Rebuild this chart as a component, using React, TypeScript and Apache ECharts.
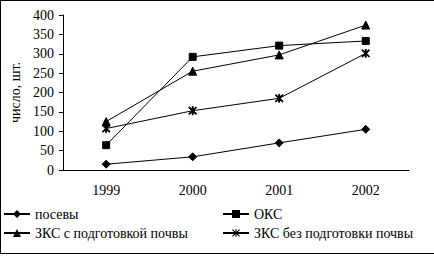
import React, { useEffect, useRef } from "react";
import * as echarts from "echarts";

const years = ["1999", "2000", "2001", "2002"];
const posevy = [15, 34, 70, 105];
const oks = [64, 292, 321, 333];
const zksWith = [125, 255, 297, 374];
const zksWithout = [107, 153, 185, 301];
const seriesNames = ["посевы", "ОКС", "ЗКС с подготовкой почвы", "ЗКС без подготовки почвы"];

const starPath =
  "path://M4.4 0H5.6V10H4.4Z M0.3 1.2L1.2 0.3L9.7 8.8L8.8 9.7Z M8.8 0.3L9.7 1.2L1.2 9.7L0.3 8.8Z";

const FONT = "Liberation Serif";

export default function App() {
  const ref = useRef<HTMLDivElement>(null);
  useEffect(() => {
    const chart = echarts.init(ref.current!, null, { renderer: "svg" });
    const mk = (name: string, data: number[], symbol: string, size: number) => ({
      name,
      type: "line",
      data,
      symbol,
      symbolSize: size,
      lineStyle: { color: "#000", width: 1 },
      itemStyle: { color: "#000", borderColor: "#000" },
    });
    const ts = { color: "#000", fontFamily: FONT, fontSize: 14 };
    const lg = (name: string, left: number, top: number) => ({
      data: [name],
      left,
      top,
      padding: 0,
      itemWidth: 26,
      itemHeight: 10,
      textStyle: { ...ts, lineHeight: 14 },
    });
    chart.setOption({
      animation: false,
      backgroundColor: "#fff",
      textStyle: ts,
      grid: { left: 61, right: 25, top: 15, bottom: 87 },
      xAxis: {
        type: "category",
        data: years,
        boundaryGap: true,
        axisLine: { lineStyle: { color: "#000", width: 1 } },
        axisTick: { length: 4, lineStyle: { color: "#000" } },
        axisLabel: { ...ts, margin: 13 },
      },
      yAxis: {
        type: "value",
        min: 0,
        max: 400,
        interval: 50,
        name: "число, шт.",
        nameLocation: "middle",
        nameGap: 36,
        nameTextStyle: ts,
        splitLine: { show: false },
        axisLine: { show: true, lineStyle: { color: "#000", width: 1 } },
        axisTick: { show: true, length: 4, lineStyle: { color: "#000" } },
        axisLabel: { ...ts, margin: 9 },
      },
      legend: [
        lg(seriesNames[0], 3, 207),
        lg(seriesNames[1], 222, 207),
        lg(seriesNames[2], 3, 226),
        lg(seriesNames[3], 222, 226),
      ],
      graphic: [
        { type: "line", shape: { x1: 0, y1: 0.5, x2: 434, y2: 0.5 }, style: { stroke: "#000", lineWidth: 1 } },
        { type: "line", shape: { x1: 0.5, y1: 0, x2: 0.5, y2: 254 }, style: { stroke: "#000", lineWidth: 1 } },
        { type: "line", shape: { x1: 0, y1: 253.5, x2: 434, y2: 253.5 }, style: { stroke: "#000", lineWidth: 1 } },
      ],
      series: [
        mk(seriesNames[0], posevy, "diamond", 8),
        mk(seriesNames[1], oks, "rect", 7),
        mk(seriesNames[2], zksWith, "triangle", 8),
        mk(seriesNames[3], zksWithout, starPath, 8),
      ],
    });
    return () => chart.dispose();
  }, []);
  return (
    <div
      ref={ref}
      style={{ position: "fixed", left: 0, top: 0, width: 434, height: 257 }}
    />
  );
}
